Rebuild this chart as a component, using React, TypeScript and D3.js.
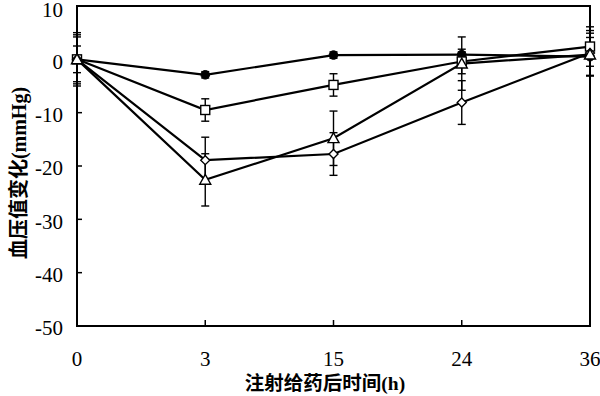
import React from "react";
import * as d3 from "d3";

const categories = ["0", "3", "15", "24", "36"];
const yTicks = [10, 0, -10, -20, -30, -40, -50];

const circleVals = [0, -2.9, 0.8, 0.9, 0.5];
const circleErr = [2.5, 0.6, 0.6, 0.5, 3.6];
const squareVals = [0, -9.5, -4.8, -0.4, 2.4];
const squareErr = [4.6, 2.1, 2.1, 2.3, 3.7];
const diamondVals = [0, -18.9, -17.75, -8.1, 1.2];
const diamondErr = [5.0, 4.3, 4.0, 4.1, 4.2];
const triangleVals = [0, -22.6, -14.8, -0.8, 0.9];
const triangleErr = [4.2, 4.9, 5.1, 5.0, 4.0];

const series = [
  { name: "circle", vals: circleVals, err: circleErr },
  { name: "square", vals: squareVals, err: squareErr },
  { name: "diamond", vals: diamondVals, err: diamondErr },
  { name: "triangle", vals: triangleVals, err: triangleErr },
];

const W = 600, H = 396;
const L = 77, R = 590, T = 6, B = 326;

export default function App() {
  const x = d3.scalePoint<string>().domain(categories).range([L, R]).padding(0);
  const y = d3.scaleLinear().domain([-50, 10]).range([B, T]);
  const line = d3.line<number>().x((_, i) => x(categories[i])!).y((d) => y(d));

  const marker = (name: string, cx: number, cy: number, key: string) => {
    if (name === "circle") return <circle key={key} cx={cx} cy={cy} r={4.3} fill="#000" stroke="#000" strokeWidth={1} />;
    if (name === "square") return <rect key={key} x={cx - 4.5} y={cy - 4.5} width={9} height={9} fill="#fff" stroke="#000" strokeWidth={1.4} />;
    if (name === "diamond") {
      const s = 4.5;
      return <path key={key} d={`M${cx},${cy - s}L${cx + s},${cy}L${cx},${cy + s}L${cx - s},${cy}Z`} fill="#fff" stroke="#000" strokeWidth={1.4} />;
    }
    const s = 5.5;
    return <path key={key} d={`M${cx},${cy - s}L${cx + s},${cy + s * 0.8}L${cx - s},${cy + s * 0.8}Z`} fill="#fff" stroke="#000" strokeWidth={1.4} />;
  };

  return (
    <svg width={W} height={H} style={{ position: "absolute", left: 0, top: 0, background: "#fff" }}>
      <rect x={0} y={0} width={W} height={H} fill="#fff" />
      <rect x={L} y={T} width={R - L} height={B - T} fill="none" stroke="#000" strokeWidth={2} />
      {yTicks.map((t) => (
        <g key={t}>
          <line x1={L} x2={L + 5} y1={y(t)} y2={y(t)} stroke="#000" strokeWidth={1.5} />
          <text x={63} y={Math.max(y(t) + 2, 10)} dy="0.35em" textAnchor="end" fontFamily="'Liberation Serif', serif" fontSize={21} fill="#000">{t}</text>
        </g>
      ))}
      {categories.map((c) => (
        <g key={c}>
          <line x1={x(c)!} x2={x(c)!} y1={B} y2={B - 6} stroke="#000" strokeWidth={1.5} />
          <text x={x(c)!} y={366} textAnchor="middle" fontFamily="'Liberation Serif', serif" fontSize={21} fill="#000">{c}</text>
        </g>
      ))}
      {series.map((s) => (
        <path key={s.name} d={line(s.vals)!} fill="none" stroke="#000" strokeWidth={2.2} />
      ))}
      {series.map((s) =>
        s.vals.map((v, i) => {
          const cx = x(categories[i])!;
          const y1 = y(v + s.err[i]);
          const y2 = y(v - s.err[i]);
          return (
            <g key={s.name + i} stroke="#000" strokeWidth={1.4}>
              <line x1={cx} x2={cx} y1={y1} y2={y2} />
              <line x1={cx - 4} x2={cx + 4} y1={y1} y2={y1} />
              <line x1={cx - 4} x2={cx + 4} y1={y2} y2={y2} />
            </g>
          );
        })
      )}
      {series.map((s) => s.vals.map((v, i) => marker(s.name, x(categories[i])!, y(v), s.name + "m" + i)))}
      <text x={325} y={390} textAnchor="middle" fontFamily="'Noto Sans CJK SC', sans-serif" fontWeight="bold" fontSize={19.5} fill="#000">
        注射给药后时间<tspan fontFamily="'Liberation Serif', serif">(h)</tspan>
      </text>
      <text transform={`translate(26,${173}) rotate(-90)`} textAnchor="middle" fontFamily="'Noto Sans CJK SC', sans-serif" fontWeight="bold" fontSize={20} fill="#000">
        血压值变化<tspan fontFamily="'Liberation Serif', serif">(mmHg)</tspan>
      </text>
    </svg>
  );
}
